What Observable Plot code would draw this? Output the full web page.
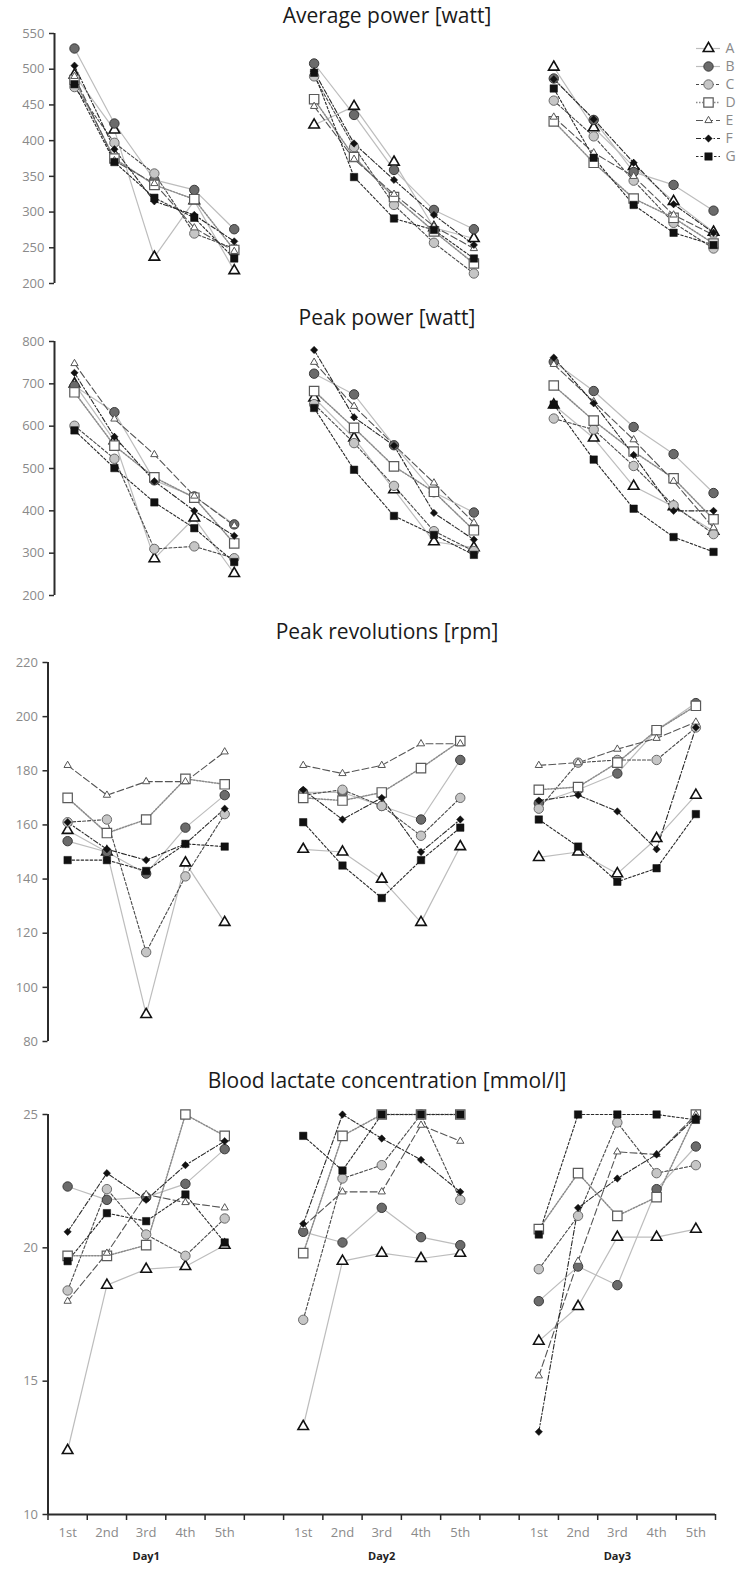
<!DOCTYPE html>
<html><head><meta charset="utf-8">
<script src="https://cdn.jsdelivr.net/npm/d3@7"></script>
<script src="https://cdn.jsdelivr.net/npm/@observablehq/plot@0.6"></script>
<style>
body{margin:0;background:#fff;}
#wrap{position:relative;width:737px;height:1596px;font-family:"Open Sans",sans-serif;overflow:hidden;}
.title{position:absolute;left:0;width:774px;text-align:center;font-size:21px;line-height:22px;color:#1a1a1a;}
svg{position:absolute;left:0;overflow:visible;}
</style></head><body><div id="wrap"></div>
<script>
// ---------- data ----------
const days = ["Day1", "Day2", "Day3"];
const sessions = ["1st", "2nd", "3rd", "4th", "5th"];
const seriesNames = ["A", "B", "C", "D", "E", "F", "G"];
const panelTitles = ["Average power [watt]", "Peak power [watt]", "Peak revolutions [rpm]", "Blood lactate concentration [mmol/l]"];

// each row: one series (A..G); values Day1 1st..5th, Day2 1st..5th, Day3 1st..5th
const avgPower = [
  [492, 415, 237, 316, 218, 422, 448, 370, 278, 263, 503, 418, 364, 315, 272],
  [529, 424, 345, 331, 276, 508, 436, 359, 303, 276, 487, 429, 356, 338, 302],
  [475, 397, 354, 270, 249, 490, 391, 310, 257, 214, 456, 406, 344, 285, 249],
  [485, 375, 338, 318, 247, 458, 377, 321, 273, 228, 427, 369, 319, 292, 256],
  [490, 372, 340, 278, 245, 448, 374, 325, 280, 249, 433, 383, 350, 296, 268],
  [505, 388, 315, 296, 259, 497, 396, 345, 296, 254, 486, 430, 369, 311, 271],
  [479, 370, 320, 292, 235, 495, 349, 291, 275, 235, 473, 376, 310, 271, 254]
];
const peakPower = [
  [700, 566, 287, 383, 252, 667, 572, 450, 327, 313, 650, 572, 458, 410, 352],
  [695, 633, 472, 434, 368, 724, 675, 555, 444, 396, 752, 683, 598, 534, 442],
  [601, 523, 310, 316, 288, 652, 560, 459, 352, 305, 618, 592, 506, 413, 345],
  [680, 554, 479, 431, 323, 683, 596, 505, 445, 354, 696, 613, 540, 477, 380],
  [748, 617, 533, 435, 365, 751, 647, 556, 466, 372, 746, 658, 568, 470, 360],
  [726, 575, 470, 400, 341, 780, 621, 554, 395, 332, 762, 654, 532, 400, 400],
  [590, 501, 420, 359, 279, 643, 497, 388, 343, 296, 651, 521, 405, 338, 303]
];
const peakRev = [
  [158, 150, 90, 146, 124, 151, 150, 140, 124, 152, 148, 150, 142, 155, 171],
  [154, 150, 142, 159, 171, 172, 172, 167, 162, 184, 168, 173, 179, 195, 205],
  [161, 162, 113, 141, 164, 171, 173, 167, 156, 170, 166, 183, 184, 184, 196],
  [170, 157, 162, 177, 175, 170, 169, 172, 181, 191, 173, 174, 183, 195, 204],
  [182, 171, 176, 176, 187, 182, 179, 182, 190, 190, 182, 183, 188, 192, 198],
  [161, 151, 147, 153, 166, 173, 162, 170, 150, 162, 169, 171, 165, 151, 196],
  [147, 147, 143, 153, 152, 161, 145, 133, 147, 159, 162, 152, 139, 144, 164]
];
const lactate = [
  [12.4, 18.6, 19.2, 19.3, 20.1, 13.3, 19.5, 19.8, 19.6, 19.8, 16.5, 17.8, 20.4, 20.4, 20.7],
  [22.3, 21.8, 21.9, 22.4, 23.7, 20.6, 20.2, 21.5, 20.4, 20.1, 18.0, 19.3, 18.6, 22.2, 23.8],
  [18.4, 22.2, 20.5, 19.7, 21.1, 17.3, 22.6, 23.1, 25.0, 21.8, 19.2, 21.2, 24.7, 22.8, 23.1],
  [19.7, 19.7, 20.1, 25.0, 24.2, 19.8, 24.2, 25.0, 25.0, 25.0, 20.7, 22.8, 21.2, 21.9, 25.0],
  [18.0, 19.8, 22.0, 21.7, 21.5, 20.8, 22.1, 22.1, 24.6, 24.0, 15.2, 19.5, 23.6, 23.5, 25.0],
  [20.6, 22.8, 21.8, 23.1, 24.0, 20.9, 25.0, 24.1, 23.3, 22.1, 13.1, 21.5, 22.6, 23.5, 24.9],
  [19.5, 21.3, 21.0, 22.0, 20.2, 24.2, 22.9, 25.0, 25.0, 25.0, 20.5, 25.0, 25.0, 25.0, 24.8]
];
const yTicksAvg = [200, 250, 300, 350, 400, 450, 500, 550];
const yTicksPeak = [200, 300, 400, 500, 600, 700, 800];
const yTicksRev = [80, 100, 120, 140, 160, 180, 200, 220];
const yTicksLac = [10, 15, 20, 25];

// ---------- styles ----------
const styles = {
  A: {symbol: "triangle", r: 3.9, fill: "white", stroke: "#111", sw: 1.6, line: "#bdbdbd", lw: 1.2, dash: null},
  B: {symbol: "circle", r: 4.7, fill: "#6b6b6b", stroke: "#3a3a3a", sw: 1, line: "#bdbdbd", lw: 1.2, dash: null},
  C: {symbol: "circle", r: 4.7, fill: "#c6c6c6", stroke: "#6a6a6a", sw: 1, line: "#4a4a4a", lw: 1.1, dash: "3,2"},
  D: {symbol: "square", r: 5.3, fill: "white", stroke: "#5a5a5a", sw: 1.2, line: "#8a8a8a", lw: 1.5, dash: "1.5,1.5"},
  E: {symbol: "triangle", r: 2.7, fill: "white", stroke: "#555", sw: 1, line: "#555", lw: 1.1, dash: "7,3"},
  F: {symbol: "diamond2", r: 3.3, fill: "#111", stroke: "#111", sw: 0.5, line: "#2a2a2a", lw: 1.1, dash: "5,2,1.5,2"},
  G: {symbol: "square", r: 4.2, fill: "#111", stroke: "#111", sw: 0.5, line: "#2a2a2a", lw: 1.1, dash: "2.5,2"}
};
const FONT = "Open Sans";
const TICK_GRAY = "#8a8a8a";
const AXIS_DARK = "#2b2b2b";

const perDay = sessions.length + 1;
const nSlots = days.length * perDay - 1; // 17 slots incl. gaps
const slotOf = (di, si) => di * perDay + si + 0.5;

function rows(values) {
  const out = [];
  seriesNames.forEach((s, i) => values[i].forEach((v, j) => {
    const di = Math.floor(j / sessions.length), si = j % sessions.length;
    out.push({series: s, day: days[di], session: sessions[si], slot: slotOf(di, si), value: v});
  }));
  return out;
}

const wrap = document.getElementById("wrap");

function addTitle(text, centerY) {
  const t = document.createElement("div");
  t.className = "title";
  t.textContent = text;
  t.style.top = (centerY - 11) + "px";
  wrap.appendChild(t);
}

function panel({vals, ticks, yTop, yBot, xLeft, xRight, bottom}) {
  const yMin = ticks[0], yMax = ticks[ticks.length - 1];
  const mT = 10, mB = bottom ? 64 : 10;
  const H = mT + (yBot - yTop) + mB;
  const data = rows(vals);
  const marks = [
    Plot.axisY(ticks, {tickSize: 5, tickPadding: 5, fontSize: 13, fill: TICK_GRAY, stroke: AXIS_DARK, strokeWidth: 1.5, label: null}),
    Plot.ruleX([0], {y1: yMin, y2: yMax, stroke: AXIS_DARK, strokeWidth: 2})
  ];
  if (bottom) {
    const sessionSlots = [], sessionLabel = new Map();
    days.forEach((d, di) => sessions.forEach((s, si) => { const k = slotOf(di, si); sessionSlots.push(k); sessionLabel.set(k, s); }));
    const daySlots = days.map((d, di) => slotOf(di, (sessions.length - 1) / 2));
    const dayLabel = new Map(days.map((d, di) => [slotOf(di, (sessions.length - 1) / 2), d]));
    marks.push(
      Plot.ruleY([yMin], {x1: 0, x2: nSlots, stroke: AXIS_DARK, strokeWidth: 2}),
      Plot.axisX(d3.range(0, nSlots + 1), {tickSize: 6, tickFormat: () => "", stroke: AXIS_DARK, strokeWidth: 1.5, label: null}),
      Plot.axisX(sessionSlots, {tickSize: 0, tickPadding: 13, tickFormat: k => sessionLabel.get(k), fontSize: 13, fill: TICK_GRAY, label: null}),
      Plot.axisX(daySlots, {tickSize: 0, tickPadding: 38, tickFormat: k => dayLabel.get(k), fontSize: 11, fontWeight: "bold", fill: "#222", label: null})
    );
  }
  seriesNames.forEach(s => {
    const st = styles[s];
    marks.push(Plot.line(data.filter(d => d.series === s), {x: "slot", y: "value", z: "day", stroke: st.line, strokeWidth: st.lw, strokeDasharray: st.dash}));
  });
  seriesNames.forEach(s => {
    const st = styles[s];
    marks.push(Plot.dot(data.filter(d => d.series === s), {x: "slot", y: "value", symbol: st.symbol, r: st.r, fill: st.fill, stroke: st.stroke, strokeWidth: st.sw}));
  });
  const svg = Plot.plot({
    width: 737, height: H,
    marginTop: mT, marginBottom: mB, marginLeft: xLeft, marginRight: 737 - xRight,
    x: {domain: [0, nSlots], axis: bottom ? undefined : null, label: null},
    y: {domain: [yMin, yMax], label: null},
    style: {fontFamily: FONT, background: "transparent", overflow: "visible"},
    marks
  });
  svg.style.top = (yTop - mT) + "px";
  wrap.appendChild(svg);
}

function legend({top, yFirst, yLast, left}) {
  const mT = yFirst - top;
  const marks = [];
  seriesNames.forEach(s => {
    const st = styles[s];
    marks.push(
      Plot.ruleY([s], {x1: 0, x2: 1, stroke: st.line, strokeWidth: st.lw, strokeDasharray: st.dash}),
      Plot.dot([s], {x: 0.5, y: d => d, symbol: st.symbol, r: st.r, fill: st.fill, stroke: st.stroke, strokeWidth: st.sw}),
      Plot.text([s], {x: 1, y: d => d, text: d => d, dx: 5, textAnchor: "start", fill: TICK_GRAY, fontSize: 14})
    );
  });
  const svg = Plot.plot({
    width: 737 - left, height: (yLast - top) + 12,
    marginLeft: 6, marginRight: 17, marginTop: mT, marginBottom: 12,
    x: {domain: [0, 1], axis: null},
    y: {type: "point", domain: seriesNames, padding: 0, axis: null},
    style: {fontFamily: FONT, background: "transparent", overflow: "visible"},
    marks
  });
  svg.style.top = top + "px";
  svg.style.left = left + "px";
  wrap.appendChild(svg);
}

addTitle(panelTitles[0], 15);
panel({vals: avgPower, ticks: yTicksAvg, yTop: 33, yBot: 283, xLeft: 54, xRight: 733, bottom: false});
legend({top: 30, yFirst: 45, yLast: 158, left: 690});

addTitle(panelTitles[1], 317);
panel({vals: peakPower, ticks: yTicksPeak, yTop: 341, yBot: 595, xLeft: 54, xRight: 733, bottom: false});

addTitle(panelTitles[2], 631);
panel({vals: peakRev, ticks: yTicksRev, yTop: 662, yBot: 1041, xLeft: 47.5, xRight: 715, bottom: false});

addTitle(panelTitles[3], 1080);
panel({vals: lactate, ticks: yTicksLac, yTop: 1114, yBot: 1514, xLeft: 47.5, xRight: 715, bottom: true});
</script>
</body></html>
